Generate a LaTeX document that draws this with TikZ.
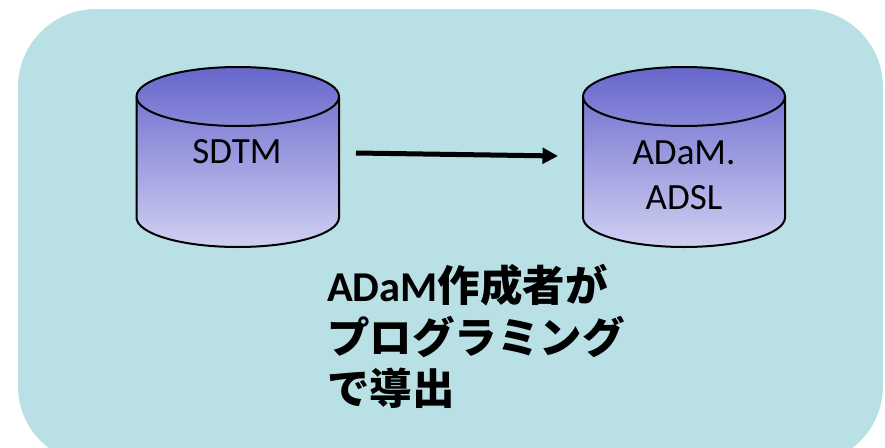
\documentclass[tikz,border=0pt]{standalone}
\usepackage{fontspec}
\setmainfont{Carlito}
\newfontfamily\cjkbold{Noto Sans CJK JP Bold}
\usetikzlibrary{arrows.meta}
\definecolor{panel}{RGB}{185,224,228}
\definecolor{drumtop}{RGB}{102,102,204}
\definecolor{drumbot}{RGB}{208,208,242}
\tikzset{
  panelbox/.style={fill=panel,draw=none},
  drum/.style={top color=drumtop,bottom color=drumbot,draw=none},
  drumline/.style={draw=black,line width=2pt},
  drumlabel/.style={font=\fontsize{37}{37}\selectfont,text=black,inner sep=0pt,align=center},
  flow/.style={draw=black,line width=5pt,-{Triangle[length=15.5pt,width=15.5pt]}},
  note/.style={font=\fontsize{42.5}{42.5}\selectfont\bfseries,text=black,inner sep=0pt,anchor=base west}
}
\newcommand{\drumshape}[2]{%
  % #1 = left x, #2 = right x
  \pgfmathsetmacro{\rx}{(#2-#1)/2}
  \path[drum] (#1,96.5) arc[start angle=180,end angle=360,x radius=\rx,y radius=29.5] -- (#2,217.5) arc[start angle=0,end angle=180,x radius=\rx,y radius=29.5] -- cycle;
  \draw[drumline] (#1,96.5) arc[start angle=180,end angle=540,x radius=\rx,y radius=29.5];
  \draw[drumline] (#1,96.5) -- (#1,217.5) arc[start angle=180,end angle=0,x radius=\rx,y radius=29.5] -- (#2,96.5);
}
\begin{document}
\begin{tikzpicture}[x=1pt,y=-1pt]
\useasboundingbox (0,0) rectangle (885,447);
\begin{scope}
\clip (0,0) rectangle (885,447);
\path[panelbox,rounded corners=78pt] (18,9) rectangle (883,464);
\end{scope}
\drumshape{136.5}{339}
\drumshape{583}{785}
\node[drumlabel] (sdtm) at (237,151.5) {SDTM};
\node[drumlabel] (adam) at (684,175) {ADaM.\\[8pt]ADSL};
\coordinate (from) at (356,153);
\coordinate (to) at (558,156);
\draw[flow] (from) -- (to);
\node[note] (l1) at (327,301.5) {ADaM{\cjkbold 作成者が}};
\node[note] (l2) at (327,353.5) {\cjkbold プログラミング};
\node[note] (l3) at (327,404.5) {\cjkbold で導出};
\end{tikzpicture}
\end{document}
